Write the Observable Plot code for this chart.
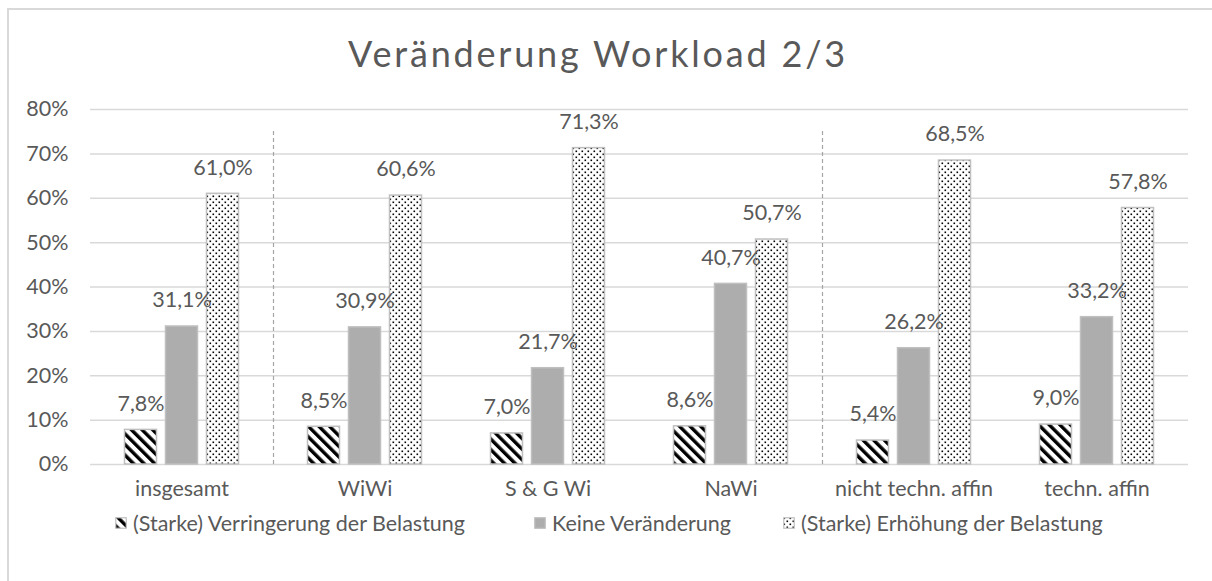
<!DOCTYPE html>
<html><head><meta charset="utf-8">
<script src="https://cdn.jsdelivr.net/npm/d3@7"></script>
<script src="https://cdn.jsdelivr.net/npm/@observablehq/plot@0.6"></script>
<style>
html,body{margin:0;padding:0;width:1212px;height:581px;overflow:hidden;background:#fff;font-family:Lato,"Open Sans",sans-serif;color:#595959;}
#frame{position:absolute;left:7px;top:8px;width:1400px;height:800px;border:2px solid #d9d9d9;box-sizing:border-box;}
#title{position:absolute;left:0;top:33px;width:1196px;text-align:center;font-size:36px;line-height:40px;letter-spacing:2.8px;color:#595959;}
#chart{position:absolute;left:0;top:90px;}
.item{position:absolute;top:511px;height:24px;display:flex;align-items:center;font-size:21.5px;white-space:nowrap;}
.item svg{margin-right:6px;}
</style></head>
<body>
<div id="frame"></div>
<div id="title">Veränderung Workload 2/3</div>
<div id="chart"></div>
<div id="legend"></div>
<script>
const categories = ["insgesamt","WiWi","S & G Wi","NaWi","nicht techn. affin","techn. affin"];
const seriesNames = ["(Starke) Verringerung der Belastung","Keine Veränderung","(Starke) Erhöhung der Belastung"];
const decrease = [7.8,8.5,7.0,8.6,5.4,9.0];
const noChange = [31.1,30.9,21.7,40.7,26.2,33.2];
const increase = [61.0,60.6,71.3,50.7,68.5,57.8];
const yTicks = [0,10,20,30,40,50,60,70,80];
const separators = ["WiWi","nicht techn. affin"];

const seriesValues = [decrease, noChange, increase];
const fills = ["url(#hatch)", "#adadad", "url(#dots)"];
const offsets = [-41, 0, 41];
const legendLeft = [115, 534, 783];

function patternDefs(prefix) {
  return `<defs>
    <pattern id="${prefix}hatch" patternUnits="userSpaceOnUse" width="7.5" height="7.5" patternTransform="rotate(-45)">
      <rect x="0" y="0" width="7.5" height="7.5" fill="#fff"/>
      <rect x="0" y="0" width="3.4" height="7.5" fill="#000"/>
    </pattern>
    <pattern id="${prefix}dots" patternUnits="userSpaceOnUse" width="6" height="6">
      <rect x="0" y="0" width="6" height="6" fill="#fff"/>
      <rect x="0.5" y="0.5" width="1.6" height="1.6" fill="#000"/>
      <rect x="3.5" y="3.5" width="1.6" height="1.6" fill="#000"/>
    </pattern>
  </defs>`;
}

const rows = seriesValues.map((vals, i) => categories.map((c, j) => ({cat: c, series: seriesNames[i], value: vals[j]})));

const fmt = v => v.toFixed(1).replace(".", ",") + "%";

const marks = [
  Plot.gridY(yTicks, {stroke: "#d9d9d9", strokeOpacity: 1, strokeWidth: 1.5}),
  Plot.ruleX(separators, {x: d => d, dx: -91.5, y1: 0, y2: 80, stroke: "#a6a6a6", strokeWidth: 1.2, strokeDasharray: "4,3", insetBottom: -19})
];
rows.forEach((r, i) => {
  marks.push(Plot.barY(r, {x: "cat", y: "value", fill: fills[i], stroke: "#bfbfbf", strokeWidth: 1.5, insetLeft: 75.5, insetRight: 75.5, dx: offsets[i]}));
});
rows.forEach((r, i) => {
  marks.push(Plot.text(r, {x: "cat", y: "value", text: d => fmt(d.value), dx: offsets[i], dy: -26, fill: "#595959", fontSize: 21.5}));
});
marks.push(Plot.axisY({ticks: yTicks, tickFormat: d => d + "%", tickSize: 0, tickPadding: 22, fontSize: 21.5, fill: "#595959"}));
marks.push(Plot.axisX({tickSize: 0, tickPadding: 16, fontSize: 21.5, fill: "#595959"}));

const chart = Plot.plot({
  width: 1212,
  height: 420,
  marginLeft: 90,
  marginRight: 24,
  marginTop: 19,
  marginBottom: 46,
  style: {fontFamily: 'Lato,"Open Sans",sans-serif', fontSize: "21.5px", color: "#595959", background: "transparent"},
  x: {domain: categories, padding: 0, label: null},
  y: {domain: [0, 80], label: null},
  marks
});
chart.insertAdjacentHTML("afterbegin", patternDefs(""));
document.getElementById("chart").appendChild(chart);

const legend = document.getElementById("legend");
seriesNames.forEach((name, i) => {
  const item = document.createElement("div");
  item.className = "item";
  item.style.left = legendLeft[i] + "px";
  const pfx = "lg" + i;
  const fill = i === 1 ? "#adadad" : `url(#${pfx}${i === 0 ? "hatch" : "dots"})`;
  item.innerHTML = `<svg width="12" height="12">${patternDefs(pfx)}<rect x="0.75" y="0.75" width="10.5" height="10.5" fill="${fill}" stroke="#bfbfbf" stroke-width="1.2"/></svg><span>${name}</span>`;
  legend.appendChild(item);
});
</script>
</body></html>
